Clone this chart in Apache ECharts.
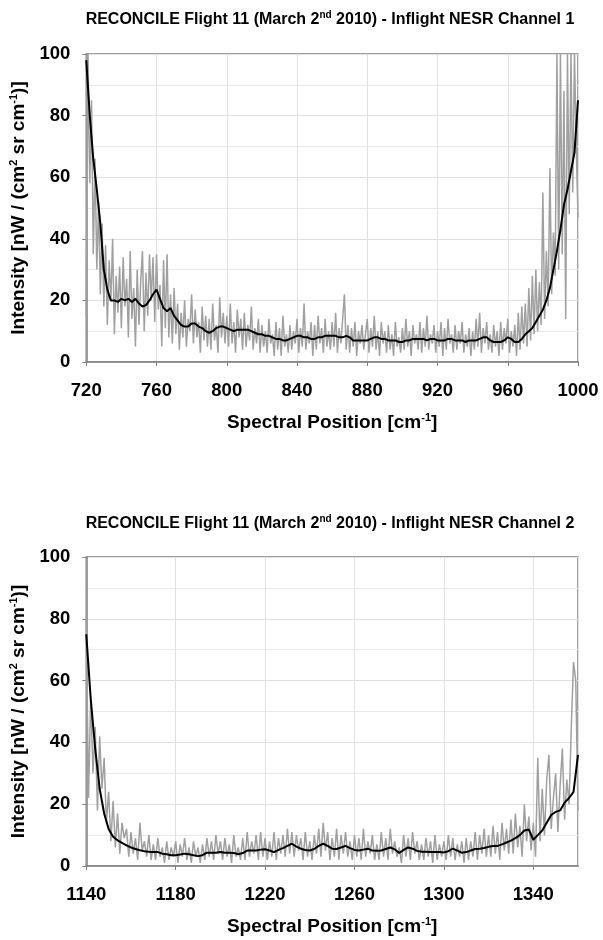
<!DOCTYPE html>
<html>
<head>
<meta charset="utf-8">
<script src="https://cdn.jsdelivr.net/npm/echarts@6/dist/echarts.min.js"></script>
<style>
  html, body { margin: 0; padding: 0; background: #fff; }
  #chart { width: 603px; height: 940px; }
</style>
</head>
<body>
<div id="chart"></div>
<script>
// channel 1: raw NESR (gray, 1 cm-1 steps from 720) and smoothed (black, 2 cm-1 steps)
var ch1Start = 720;
var ch1Raw = [
    15, 100, 58, 85, 35, 66, 30, 52, 22, 45,
    18, 38, 12, 33, 20, 40, 9, 28, 16, 31,
    11, 34, 18, 27, 8, 36, 14, 24, 5, 30,
    12, 26, 36, 10, 29, 15, 35, 20, 34, 13,
    35, 17, 25, 5, 33, 11, 35, 8, 22, 6,
    24, 9, 19, 4, 16, 8, 20, 5, 14, 10,
    22, 6, 17, 8, 13, 3, 18, 7, 15, 5,
    14, 4, 19, 7, 12, 3, 21, 8, 16, 6,
    15, 5, 19, 6, 13, 3, 17, 8, 14, 4,
    16, 5, 12, 7, 18, 4, 11, 6, 14, 3,
    12, 5, 10, 3, 14, 6, 9, 2, 13, 4,
    11, 2, 15, 5, 9, 3, 12, 4, 10, 6,
    14, 3, 11, 5, 19, 4, 10, 6, 13, 2,
    12, 4, 15, 6, 11, 3, 14, 5, 10, 4,
    13, 5, 16, 3, 11, 6, 14, 22, 4, 12,
    3, 11, 5, 13, 2, 10, 6, 12, 4, 9,
    14, 3, 11, 5, 15, 4, 10, 2, 13, 6,
    10, 3, 12, 4, 9, 2, 13, 5, 8, 3,
    11, 4, 14, 5, 10, 2, 12, 6, 9, 4,
    13, 3, 11, 5, 15, 4, 9, 6, 12, 3,
    10, 5, 13, 2, 11, 4, 14, 6, 9, 3,
    12, 4, 10, 6, 13, 3, 9, 5, 11, 2,
    10, 4, 14, 5, 16, 3, 11, 6, 13, 4,
    9, 3, 12, 5, 10, 2, 13, 4, 11, 6,
    14, 3, 10, 5, 12, 2, 16, 4, 18, 6,
    19, 5, 24, 7, 28, 9, 30, 10, 26, 12,
    55, 14, 36, 18, 63, 22, 42, 28, 100, 30,
    100, 35, 88, 14, 100, 48, 100, 55, 100, 70,
    47
];
var ch1Smooth = [
    98, 80, 66, 56, 45, 30, 23.5, 20, 20, 19.5,
    20.5, 20, 20.5, 19.5, 20.5, 19, 18, 18.5, 20, 22,
    23.5, 20.5, 17.5, 16.5, 17.5, 15, 13.5, 12, 11.5, 11.5,
    12.5, 12.5, 11.5, 11, 10, 9.5, 10, 11, 11.5, 11.5,
    11, 10.5, 10, 10.5, 10.5, 10.5, 10.5, 10, 9.5, 9,
    9, 8.5, 8.5, 8, 7.5, 7.5, 7, 7, 7.5, 8,
    8.5, 8.5, 8, 8, 7.5, 7.5, 8, 8, 8.5, 8.5,
    8.5, 8.5, 8, 8, 8.5, 8, 7, 7, 7, 7,
    7, 7.5, 8, 8, 7.5, 7.5, 7, 7, 7, 6.5,
    6.5, 7, 7, 7.5, 7.5, 7.5, 7.5, 7, 7.5, 7.5,
    7, 7, 7, 7.5, 7.5, 7, 7, 7, 6.5, 7,
    7, 7, 7.5, 8, 8, 7, 6.5, 6.5, 6.5, 7,
    8, 7.5, 6.5, 6.5, 7.5, 9, 10, 11, 13, 15,
    17, 20, 24, 30, 36, 43, 51, 56, 62, 68,
    85
];

// channel 2
var ch2Start = 1140;
var ch2Raw = [
    80, 22, 55, 30, 45, 18, 42, 25, 35, 14,
    24, 8, 21, 6, 17, 4, 14, 9, 12, 3,
    11, 4, 9, 2, 14, 5, 8, 3, 10, 2,
    7, 2, 9, 3, 6, 1, 8, 2, 6, 3,
    8, 1, 7, 3, 9, 2, 6, 1, 8, 3,
    6, 1, 7, 2, 9, 3, 8, 2, 10, 4,
    8, 2, 9, 3, 7, 1, 10, 3, 6, 2,
    9, 2, 11, 3, 8, 4, 10, 2, 11, 3,
    9, 2, 8, 3, 11, 2, 9, 4, 10, 3,
    12, 4, 11, 3, 10, 5, 9, 2, 11, 3,
    8, 2, 10, 4, 12, 3, 14, 5, 11, 2,
    9, 3, 12, 2, 10, 4, 11, 3, 8, 2,
    10, 3, 9, 2, 12, 3, 8, 4, 10, 2,
    7, 2, 11, 3, 9, 2, 12, 4, 8, 3,
    6, 1, 10, 3, 9, 2, 11, 4, 8, 2,
    7, 2, 9, 3, 8, 1, 10, 2, 7, 3,
    8, 2, 10, 3, 9, 2, 7, 3, 8, 1,
    9, 2, 8, 3, 11, 2, 10, 4, 12, 3,
    10, 3, 13, 4, 11, 2, 14, 5, 12, 4,
    15, 4, 17, 6, 13, 3, 20, 8, 16, 5,
    14, 3, 35, 8, 25, 10, 28, 36, 12, 22,
    30, 11, 26, 38, 15, 28, 20, 45, 66, 60,
    18
];
var ch2Smooth = [
    75, 54, 38, 25, 17, 12, 9.5, 8.3, 7.5, 6.7,
    6, 5.5, 5.1, 4.8, 4.6, 4.5, 4.5, 4, 3.8, 3.5,
    3.5, 3.7, 4, 3.8, 3.5, 3.2, 3.5, 4.3, 4.3, 4.3,
    4.5, 4.3, 4.3, 4.2, 3.8, 4.2, 5, 5, 5, 5.3,
    5.4, 5, 4.5, 5.2, 5.8, 6.5, 7.2, 6.3, 5.6, 5.2,
    5, 5.5, 6.5, 7.2, 6.5, 5.6, 5.5, 6, 6.5, 5.8,
    5.2, 5, 5.3, 5.6, 5, 4.9, 5, 5.5, 6, 5.4,
    4.2, 5.2, 6, 5.6, 4.9, 4.6, 4.6, 4.5, 4.5, 4.5,
    4.4, 4.8, 5.6, 5, 4.3, 4.5, 5, 5.5, 5.6, 5.8,
    6.2, 6.5, 6.5, 7, 7.6, 8.2, 9, 10, 11.5, 11.8,
    8.5, 10, 11.5, 14, 16.5, 17.5, 18, 20.5, 22, 24,
    36
];

var xTicks1 = [720, 1000, 40];
var xTicks2 = [1140, 1360, 40];

function pairs(start, step, vals) {
    return vals.map(function (v, i) { return [start + i * step, v]; });
}

var font = "'Liberation Sans', Arial, sans-serif";
var rich = {
    a: { fontSize: 19, fontWeight: 'bold', color: '#000', fontFamily: font, lineHeight: 22 },
    s: { fontSize: 11, fontWeight: 'bold', color: '#000', fontFamily: font, verticalAlign: 'top', lineHeight: 11 }
};
var titleRich = {
    a: { fontSize: 16, fontWeight: 'bold', color: '#000', fontFamily: font, lineHeight: 20 },
    s: { fontSize: 10, fontWeight: 'bold', color: '#000', fontFamily: font, verticalAlign: 'top', lineHeight: 10 }
};

function xAxis(idx, t) {
    return {
        type: 'value', gridIndex: idx, min: t[0], max: t[1], interval: t[2],
        name: '{a|Spectral Position [cm}{s|-1}{a|]}',
        nameLocation: 'middle', nameGap: 50,
        nameTextStyle: { rich: rich },
        axisLine: { lineStyle: { color: '#808080', width: 1.5 } },
        axisTick: { show: true, length: 4, lineStyle: { color: '#808080' } },
        axisLabel: {
            margin: 19, color: '#000', fontSize: 18.5, fontWeight: 'bold', fontFamily: font,
            showMaxLabel: idx === 0,
            formatter: function (v) { return String(v); }
        },
        splitLine: { show: true, lineStyle: { color: '#e0e0e0', width: 1 } }
    };
}

function yAxis(idx) {
    return {
        type: 'value', gridIndex: idx, min: 0, max: 100, interval: 20,
        name: '{a|Intensity [nW / (cm}{s|2}{a| sr cm}{s|-1}{a|)]}',
        nameLocation: 'middle', nameGap: 53, nameRotate: 90,
        nameTextStyle: { rich: rich },
        axisLine: { show: true, lineStyle: { color: '#808080', width: 1.5 } },
        axisTick: { show: true, length: 4, lineStyle: { color: '#808080' } },
        axisLabel: { margin: 16, color: '#000', fontSize: 18.5, fontWeight: 'bold', fontFamily: font },
        splitLine: { show: true, lineStyle: { color: '#e0e0e0', width: 1 } },
        minorTick: { show: false, splitNumber: 2 },
        minorSplitLine: { show: true, lineStyle: { color: '#e8e8e8', width: 1 } }
    };
}

function rawSeries(idx, data) {
    return {
        type: 'line', xAxisIndex: idx, yAxisIndex: idx, data: data,
        showSymbol: false, clip: true, silent: true,
        lineStyle: { color: '#a0a0a0', width: 1.5 }
    };
}
function smoothSeries(idx, data) {
    return {
        type: 'line', xAxisIndex: idx, yAxisIndex: idx, data: data,
        showSymbol: false, clip: true, silent: true,
        lineStyle: { color: '#000', width: 2 }
    };
}

var myChart = echarts.init(document.getElementById('chart'), null, { renderer: 'canvas' });
var option = {
    animation: false,
    backgroundColor: '#fff',
    title: [
        {
            text: '{a|RECONCILE Flight 11 (March 2}{s|nd}{a| 2010) - Inflight NESR Channel 1}',
            left: 325, top: 5, textAlign: 'center',
            textStyle: { rich: titleRich }
        },
        {
            text: '{a|RECONCILE Flight 11 (March 2}{s|nd}{a| 2010) - Inflight NESR Channel 2}',
            left: 325, top: 509, textAlign: 'center',
            textStyle: { rich: titleRich }
        }
    ],
    grid: [
        { left: 85, top: 54, width: 493, height: 308, show: true, borderColor: '#808080', borderWidth: 1.5, backgroundColor: '#fff' },
        { left: 85, top: 557, width: 493, height: 309, show: true, borderColor: '#808080', borderWidth: 1.5, backgroundColor: '#fff' }
    ],
    xAxis: [xAxis(0, xTicks1), xAxis(1, xTicks2)],
    yAxis: [yAxis(0), yAxis(1)],
    series: [
        rawSeries(0, pairs(ch1Start, 1, ch1Raw)),
        smoothSeries(0, pairs(ch1Start, 2, ch1Smooth)),
        rawSeries(1, pairs(ch2Start, 1, ch2Raw)),
        smoothSeries(1, pairs(ch2Start, 2, ch2Smooth))
    ]
};
myChart.setOption(option);
</script>
</body>
</html>
